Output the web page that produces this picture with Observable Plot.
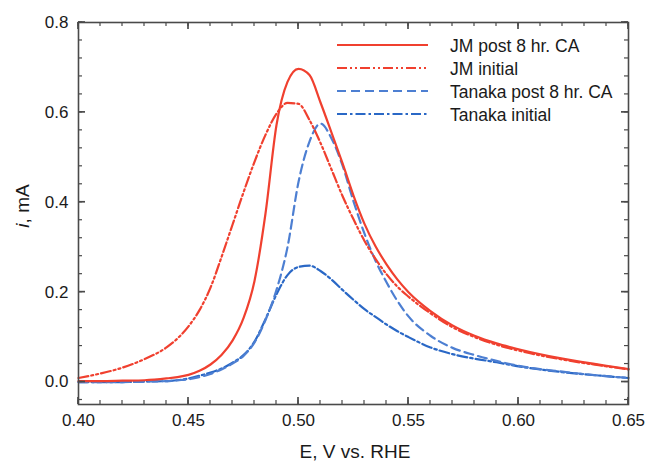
<!DOCTYPE html>
<html><head><meta charset="utf-8">
<script src="https://cdn.jsdelivr.net/npm/d3@7"></script>
<script src="https://cdn.jsdelivr.net/npm/@observablehq/plot@0.6"></script>
<style>
body{margin:0;background:#fff}
svg{font-family:"Liberation Sans",Arial,Helvetica,sans-serif}
</style>
</head><body><div id="chart"></div>
<script>
// ---- data ----
const E = [0.40,0.41,0.42,0.43,0.44,0.445,0.45,0.455,0.46,0.465,0.47,0.475,0.48,0.485,0.49,0.495,0.50,0.505,0.51,0.515,0.52,0.525,0.53,0.535,0.54,0.545,0.55,0.56,0.57,0.58,0.59,0.60,0.62,0.64,0.65];
const jmPost = [0.002,0.002,0.003,0.004,0.008,0.011,0.016,0.025,0.039,0.060,0.092,0.142,0.225,0.375,0.572,0.668,0.697,0.683,0.622,0.555,0.487,0.415,0.352,0.302,0.262,0.228,0.200,0.158,0.126,0.103,0.086,0.073,0.052,0.036,0.029];
const jmInitial = [0.009,0.019,0.032,0.051,0.077,0.097,0.124,0.160,0.210,0.278,0.350,0.422,0.490,0.550,0.597,0.621,0.619,0.583,0.532,0.473,0.414,0.362,0.314,0.274,0.240,0.212,0.190,0.153,0.122,0.100,0.083,0.070,0.050,0.035,0.028];
const tanakaPost = [0.000,0.000,0.000,0.001,0.002,0.004,0.006,0.011,0.018,0.028,0.041,0.058,0.088,0.138,0.205,0.300,0.445,0.535,0.575,0.542,0.482,0.402,0.330,0.270,0.222,0.180,0.146,0.103,0.076,0.060,0.047,0.036,0.023,0.013,0.009];
const tanakaInitial = [0.000,0.000,0.000,0.001,0.002,0.004,0.008,0.014,0.021,0.030,0.043,0.060,0.090,0.140,0.195,0.238,0.256,0.259,0.247,0.228,0.205,0.183,0.162,0.145,0.128,0.113,0.100,0.077,0.062,0.052,0.044,0.035,0.022,0.013,0.009];
const seriesNames = ["JM post 8 hr. CA","JM initial","Tanaka post 8 hr. CA","Tanaka initial"];
const xMajor = [0.40,0.45,0.50,0.55,0.60,0.65];
const xMinor = d3.range(40,66).map(i => i/100);
const yMajor = [0.0,0.2,0.4,0.6,0.8];
const yMinor = d3.range(-1,21).map(i => i*0.04);
const xDomain = [0.40, 0.65], yDomain = [-0.05, 0.8];

// ---- styles ----
const red = "#f0402f", blue = "#2a68c6", blueLight = "#4d7fd2";
const styles = [
  {stroke: red, dash: null},
  {stroke: red, dash: "10,3,2,3,2,3"},
  {stroke: blueLight, dash: "9,5"},
  {stroke: blue, dash: "10,3,2.5,3"}
];
const valueArrays = [jmPost, jmInitial, tanakaPost, tanakaInitial];
const rows = valueArrays.map(vals => E.map((e, i) => ({E: e, v: vals[i]})));

const W = 649, H = 465, mL = 78, mR = 21, mT = 22, mB = 61;
const axisColor = "#4a4a4a";
const majorLen = 7, minorLen = 4;

const drawOrder = [3, 2, 1, 0];
const lineMarks = drawOrder.map(k => Plot.line(rows[k], {
  x: "E", y: "v", stroke: styles[k].stroke, strokeWidth: 2.2,
  strokeDasharray: styles[k].dash, curve: "monotone-x"
}));

const plot = Plot.plot({
  width: W, height: H,
  marginLeft: mL, marginRight: mR, marginTop: mT, marginBottom: mB,
  x: {domain: xDomain},
  y: {domain: yDomain},
  style: {fontFamily: '"Liberation Sans", Arial, sans-serif', background: "#fff"},
  marks: [
    ...lineMarks,
    Plot.frame({stroke: axisColor, strokeWidth: 1.6}),
    Plot.axisX(xMajor, {tickSize: 0, tickPadding: 9, tickFormat: d3.format(".2f"), fontSize: 17, fill: "#1a1a1a", label: null}),
    Plot.axisY(yMajor, {tickSize: 0, tickPadding: 10, tickFormat: d3.format(".1f"), fontSize: 17, fill: "#1a1a1a", label: null})
  ]
});

const svg = d3.select(plot);
const sx = plot.scale("x"), sy = plot.scale("y");
const fx = v => sx.apply(v), fy = v => sy.apply(v);
const pxLeft = fx(xDomain[0]), pxRight = fx(xDomain[1]);
const pxBottom = fy(yDomain[0]), pxTop = fy(yDomain[1]);

// inward ticks on all four sides, positioned by Plot's scales
const tg = svg.append("g");
function seg(xa, ya, xb, yb, sw) {
  tg.append("line")
    .attr("x1", xa).attr("y1", ya).attr("x2", xb).attr("y2", yb)
    .attr("stroke", axisColor).attr("stroke-width", sw);
}
xMinor.forEach(v => { const p = fx(v); seg(p, pxBottom, p, pxBottom - minorLen, 1.2); seg(p, pxTop, p, pxTop + minorLen, 1.2); });
xMajor.forEach(v => { const p = fx(v); seg(p, pxBottom, p, pxBottom - majorLen, 1.7); seg(p, pxTop, p, pxTop + majorLen, 1.7); });
yMinor.forEach(v => { const p = fy(v); seg(pxLeft, p, pxLeft + minorLen, p, 1.2); seg(pxRight, p, pxRight - minorLen, p, 1.2); });
yMajor.forEach(v => { const p = fy(v); seg(pxLeft, p, pxLeft + majorLen, p, 1.7); seg(pxRight, p, pxRight - majorLen, p, 1.7); });

// axis labels
svg.append("text")
  .attr("x", (pxLeft + pxRight) / 2 + 2).attr("y", 458)
  .attr("text-anchor", "middle").attr("font-size", 19).attr("fill", "#1a1a1a")
  .text("E, V vs. RHE");
const yl = svg.append("text")
  .attr("transform", `translate(22,206) rotate(-90)`)
  .attr("text-anchor", "middle").attr("dominant-baseline", "central")
  .attr("font-size", 19).attr("fill", "#1a1a1a");
yl.append("tspan").attr("font-style", "italic").text("i");
yl.append("tspan").text(", mA");

// legend
const lg = svg.append("g").attr("text-anchor", "start");
seriesNames.forEach((name, k) => {
  const yy = 45 + k * 23;
  lg.append("line").attr("x1", 337).attr("x2", 428).attr("y1", yy).attr("y2", yy)
    .attr("stroke", styles[k].stroke).attr("stroke-width", 2.2)
    .attr("stroke-dasharray", styles[k].dash);
  lg.append("text").attr("x", 450).attr("y", yy + 1)
    .attr("text-anchor", "start")
    .attr("dominant-baseline", "central").attr("font-size", 17.5).attr("fill", "#1a1a1a")
    .text(name);
});

document.getElementById("chart").appendChild(plot);
</script>
</body></html>
